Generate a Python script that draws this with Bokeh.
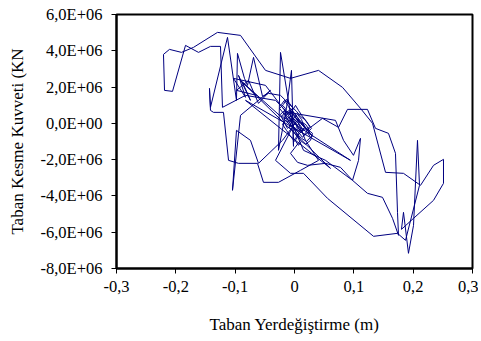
from bokeh.plotting import figure
from bokeh.models import Range1d, FixedTicker
from bokeh.embed import file_html
from bokeh.resources import INLINE

# Base displacement (m)
disp = [
    0.0, 0.0051, -0.0034, 0.0034, -0.0067, -0.0118, -0.0034, -0.0084, -0.0169, -0.0135,
    -0.0202, -0.0152, -0.0219, -0.0169, -0.0101, -0.0051, 0.0017, 0.0084, 0.0034, 0.0118,
    0.0185, 0.0135, 0.0202, 0.0253, 0.0169, 0.0101, 0.0051, 0.0118, 0.0202, 0.0270,
    0.0219, 0.0287, 0.0236, 0.0169, 0.0101, 0.0034,
    -0.0236, -0.0438, -0.0539, -0.0691, -0.0792, -0.0843, -0.0961, -0.0978, -0.1129, -0.1416,
    -0.1433, -0.1416, -0.1365, -0.1197, -0.1112, -0.0944, -0.0624, -0.0523, -0.0270, 0.0101,
    0.0405, 0.0185, 0.0034, 0.0303, -0.0067, 0.0202,
    0.0472, 0.0742, 0.0893, 0.1230, 0.1365, 0.1584, 0.1702, 0.1736, 0.1753, 0.1652,
    0.1483, 0.1230, 0.0978, 0.0775, 0.0523, 0.0219, 0.0051, -0.0067, 0.0101, -0.0034,
    -0.0236, -0.0270, -0.0135, -0.0051, -0.0017,
    -0.0034, -0.0084, -0.0135, -0.0185, -0.0253, -0.0185, -0.0118, -0.0051, -0.0084, -0.0017,
    0.0051, 0.0, -0.0067, -0.0135, -0.0202, -0.0152, -0.0084, -0.0017, 0.0051, 0.0118,
    0.0152, 0.0219, 0.0303, 0.0270, 0.0185, 0.0118, 0.0067, 0.0, 0.0084, 0.0152,
    0.0084, 0.0017, -0.0051, -0.0101,
    0.0691, 0.0826, 0.0994, 0.1112, 0.1079, 0.0978, 0.0523, 0.0152, -0.0101,
    -0.0489, -0.1028, -0.0826, -0.0944, -0.0742, -0.0876, -0.0640, -0.0978, -0.0775, -0.0607,
    -0.0405, -0.0910, -0.1045, -0.0978, -0.0742, -0.0607, -0.0202, 0.0034,
    -0.0320, -0.0826, -0.1214, -0.1247, -0.1416, -0.1618, -0.1837, -0.2056, -0.2191, -0.2208,
    -0.2107, -0.1905, -0.1702, -0.1298, -0.0910, -0.0489, -0.0067, 0.0405, 0.0809, 0.1112,
    0.1315, 0.1534, 0.1837, 0.2124, 0.2343, 0.2511, 0.2511, 0.2343, 0.2006, 0.1803,
    0.1837, 0.1921, 0.2006, 0.2073, 0.2107, 0.1871, 0.1736, 0.1332, 0.0556, 0.0152,
    -0.0067, -0.0320, 0.0, 0.0101, -0.0067, 0.0051,
    -0.0034, -0.0101, -0.0152, -0.0084, -0.0017, 0.0034, 0.0101, 0.0169, 0.0101, 0.0017,
    -0.0051, -0.0118, -0.0185, -0.0236, -0.0169, -0.0101, -0.0034, 0.0017, 0.0067, 0.0135,
    0.0202, 0.0253, 0.0185, 0.0135, 0.0067,
    -0.0910, 0.0607, -0.0826, 0.0944, 0.0034,
]

# Base shear force (x 1e6 KN)
shear_e6 = [
    0.0, 0.165, -0.165, -0.386, -0.055, 0.276, 0.441, 0.716, 0.551, 0.220,
    0.386, 0.827, 1.047, 1.267, 0.937, 0.606, 0.331, 0.055, -0.220, -0.441,
    -0.276, 0.055, -0.110, -0.441, -0.661, -0.331, -0.606, -0.827, -0.992, -0.771,
    -0.496, -0.276, -0.055, 0.220, 0.386, 0.661,
    1.543, 1.653, 1.488, 3.637, 2.094, 2.480, 3.857, 1.267, 4.739, 0.882,
    1.929, 0.716, 0.606, 0.606, -2.039, -2.204, -2.204, -3.251, -3.251, -2.590,
    -2.039, -0.937, 0.276, -0.716, 0.827, -0.386,
    0.276, -0.220, 0.771, 0.771, -0.276, -0.551, -1.653, -4.904, -6.171, -5.235,
    -4.077, -3.857, -3.141, -2.424, -2.204, -2.314, -2.149, -1.653, -0.937, -0.110,
    3.912, -1.488, 0.827, 2.920, -1.267,
    0.882, 1.102, 1.322, 1.047, 0.827, 0.551, 0.386, 0.110, -0.220, -0.441,
    -0.771, -0.992, -0.716, -0.386, -0.055, 0.165, 0.055, 0.276, 0.496, 0.220,
    -0.110, -0.331, -0.551, -0.937, -1.157, -0.992, -1.212, -0.882, -0.551, -0.386,
    -0.055, 0.165, 0.331, 0.606,
    0.165, -0.937, -1.763, -0.827, -2.039, -3.141, -2.039, -1.488, 0.441,
    2.094, 2.480, 1.433, 2.645, 1.267, 2.259, 1.543, 1.818, 2.369, 1.102,
    1.818, 0.441, -3.692, -0.386, -0.937, -2.204, -0.937, 0.110,
    1.267, 1.543, 0.882, 4.243, 4.243, 3.912, 4.298, 1.763, 1.818, 3.802,
    4.077, 3.912, 4.188, 5.014, 4.849, 2.920, 2.480, 2.920, 1.984, 0.827,
    0.0, -2.700, -2.755, -3.416, -2.314, -1.984, -3.306, -4.243, -5.235, -5.841,
    -4.904, -7.163, -5.620, -0.937, -3.416, -6.447, -6.061, -6.226, -4.133, -2.755,
    -2.755, -2.039, 0.0, -0.386, 0.276, -0.110,
    0.276, 0.110, 0.441, 0.661, 0.496, 0.220, 0.0, -0.220, -0.496, -0.276,
    -0.110, -0.276, 0.110, 0.496, 0.716, 0.441, 0.716, 0.992, 0.716, 0.386,
    0.110, -0.165, -0.551, -0.771, -0.496,
    2.369, -2.480, 1.267, -2.039, -0.110,
]
shear = [v * 1e6 for v in shear_e6]

x_ticks = [-0.3, -0.2, -0.1, 0.0, 0.1, 0.2, 0.3]
x_labels = ["-0,3", "-0,2", "-0,1", "0", "0,1", "0,2", "0,3"]
y_ticks = [-8e6, -6e6, -4e6, -2e6, 0.0, 2e6, 4e6, 6e6]
y_labels = ["-8,0E+06", "-6,0E+06", "-4,0E+06", "-2,0E+06", "0,0E+00", "2,0E+06", "4,0E+06", "6,0E+06"]

FONT = "'Liberation Serif', serif"

p = figure(frame_width=356, frame_height=254,
           x_range=Range1d(-0.3, 0.3), y_range=Range1d(-8e6, 6e6),
           output_backend="svg", toolbar_location=None,
           min_border_left=116, min_border_right=6, min_border_top=14, min_border_bottom=70,
           background_fill_color="white", border_fill_color="white")

p.line(disp, shear, line_color="#000080", line_width=1)

p.grid.visible = False
p.outline_line_color = "black"
p.outline_line_width = 2
p.outline_line_alpha = 1

p.xaxis.ticker = FixedTicker(ticks=x_ticks)
p.xaxis.major_label_overrides = {t: l for t, l in zip(x_ticks, x_labels)}
p.yaxis.ticker = FixedTicker(ticks=y_ticks)
p.yaxis.major_label_overrides = {t: l for t, l in zip(y_ticks, y_labels)}

for ax in (p.xaxis, p.yaxis):
    ax.axis_line_color = "black"
    ax.axis_line_width = 2
    ax.major_tick_line_color = "black"
    ax.major_tick_line_width = 1
    ax.major_tick_in = 0
    ax.major_tick_out = 5
    ax.minor_tick_line_color = None
    ax.major_label_text_font = FONT
    ax.major_label_text_font_size = "16.5px"
    ax.major_label_text_color = "black"
    ax.axis_label_text_font = FONT
    ax.axis_label_text_font_size = "17px"
    ax.axis_label_text_font_style = "normal"
    ax.axis_label_text_color = "black"

p.xaxis.axis_label = "Taban Yerdeğiştirme (m)"
p.yaxis.axis_label = "Taban Kesme Kuvveti (KN"
p.xaxis.major_label_standoff = 7
p.yaxis.major_label_standoff = 9
p.xaxis.axis_label_standoff = 20
p.yaxis.axis_label_standoff = 10

open("out.html", "w").write(file_html(p, INLINE))
